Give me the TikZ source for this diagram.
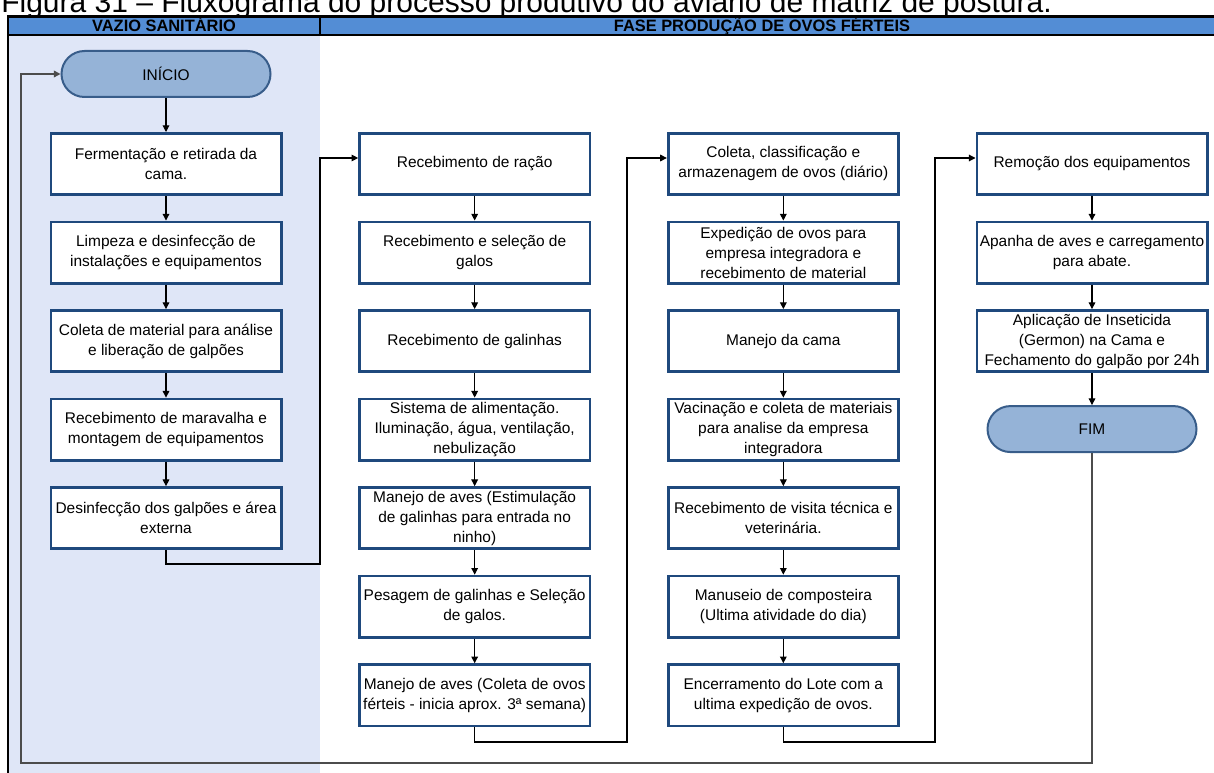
\documentclass[tikz,border=0pt]{standalone}
\usepackage{fontspec}
\setmainfont{Liberation Sans}
\usetikzlibrary{arrows.meta,positioning,calc}
\definecolor{boxblue}{HTML}{1F497D}
\definecolor{termfill}{HTML}{95B3D7}
\definecolor{termline}{HTML}{385D8A}
\definecolor{hdrblue}{HTML}{538DD5}
\definecolor{vaziobg}{HTML}{DFE6F7}

\begin{document}
\begin{tikzpicture}[
  x=0.75pt,y=-0.75pt,
  every node/.style={font=\fontsize{11.6}{15}\selectfont,align=center},
  flow/.style={-{Triangle[length=5pt,width=5pt]},line width=0.8pt},
  backflow/.style={flow,draw=black!70,line width=1.1pt},
  box/.style={draw=boxblue,line width=2pt,fill=white,minimum width=172.75pt,minimum height=46pt,inner sep=1pt},
  term/.style={draw=termline,line width=1.5pt,fill=termfill,rounded corners=17.25pt,minimum width=156.75pt,minimum height=34.5pt},
  lanehead/.style={anchor=base,font=\bfseries\fontsize{12.3}{15}\selectfont}
]
\useasboundingbox (0,0) rectangle (1214,773);
\clip (0,0) rectangle (1214,773);

% title, cut off at the top
\node[anchor=base west,inner sep=0pt,font=\fontsize{22.5}{26}\selectfont] (titulo) at (1,12.5) {Figura 31 – Fluxograma do processo produtivo do aviário de matriz de postura.};

% table and lanes
\fill[vaziobg] (8,35) rectangle (320,780);
\fill[hdrblue] (8,16.5) rectangle (1220,35);
\draw[line width=1.6pt] (1220,16.5) -- (8,16.5) -- (8,780);
\draw[line width=1.6pt] (8,35) -- (1220,35);
\draw[line width=1.2pt] (320,16.5) -- (320,35);
\node[lanehead] (vazio) at (164,31.8) {VAZIO SANITÁRIO};
\node[lanehead] (fase) at (762,31.8) {FASE PRODUÇÃO DE OVOS FÉRTEIS};

% vazio sanitario
\node[term] (inicio) at (166,74) {INÍCIO};
\node[box,below=25.5pt of inicio] (ferm) {Fermentação e retirada da\\cama.};
\node[box,below=18.4pt of ferm] (limpeza) {Limpeza e desinfecção de\\instalações e equipamentos};
\node[box,below=18.4pt of limpeza] (coletamat) {Coleta de material para análise\\e liberação de galpões};
\node[box,below=18.4pt of coletamat] (maravalha) {Recebimento de maravalha e\\montagem de equipamentos};
\node[box,below=18.4pt of maravalha] (desinf) {Desinfecção dos galpões e área\\externa};

% producao, first column
\node[box,right=56.75pt of ferm] (racao) {Recebimento de ração};
\node[box,below=18.4pt of racao] (galos) {Recebimento e seleção de\\galos};
\node[box,below=18.4pt of galos] (galinhas) {Recebimento de galinhas};
\node[box,below=18.4pt of galinhas] (alimentacao) {Sistema de alimentação.\\Iluminação, água, ventilação,\\nebulização};
\node[box,below=18.4pt of alimentacao] (estimulo) {Manejo de aves (Estimulação\\de galinhas para entrada no\\ninho)};
\node[box,below=18.4pt of estimulo] (pesagem) {Pesagem de galinhas e Seleção\\de galos.};
\node[box,below=18.4pt of pesagem] (coletaovos) {Manejo de aves (Coleta de ovos\\férteis - inicia aprox. 3ª semana)};

% producao, second column
\node[box,right=56.75pt of racao] (classif) {Coleta, classificação e\\armazenagem de ovos (diário)};
\node[box,below=18.4pt of classif] (expedicao) {Expedição de ovos para\\empresa integradora e\\recebimento de material};
\node[box,below=18.4pt of expedicao] (cama) {Manejo da cama};
\node[box,below=18.4pt of cama] (vacina) {Vacinação e coleta de materiais\\para analise da empresa\\integradora};
\node[box,below=18.4pt of vacina] (visita) {Recebimento de visita técnica e\\veterinária.};
\node[box,below=18.4pt of visita] (compost) {Manuseio de composteira\\(Ultima atividade do dia)};
\node[box,below=18.4pt of compost] (encerra) {Encerramento do Lote com a\\ultima expedição de ovos.};

% producao, last column
\node[box,right=56.75pt of classif] (remocao) {Remoção dos equipamentos};
\node[box,below=18.4pt of remocao] (apanha) {Apanha de aves e carregamento\\para abate.};
\node[box,below=18.4pt of apanha] (inseticida) {Aplicação de Inseticida\\(Germon) na Cama e\\Fechamento do galpão por 24h};
\node[term,below=24pt of inseticida] (fim) {FIM};

\coordinate (c1) at (320,564);
\coordinate (c2) at (627,742);
\coordinate (c3) at (935,742);
\coordinate (back) at (21,763);

\draw[flow] (inicio) -- (ferm);
\draw[flow] (ferm) -- (limpeza);
\draw[flow] (limpeza) -- (coletamat);
\draw[flow] (coletamat) -- (maravalha);
\draw[flow] (maravalha) -- (desinf);
\draw[flow] (desinf.south) |- (c1) |- ([yshift=4.5pt]racao.west);
\draw[flow] (racao) -- (galos);
\draw[flow] (galos) -- (galinhas);
\draw[flow] (galinhas) -- (alimentacao);
\draw[flow] (alimentacao) -- (estimulo);
\draw[flow] (estimulo) -- (pesagem);
\draw[flow] (pesagem) -- (coletaovos);
\draw[flow] (coletaovos.south) |- (c2) |- ([yshift=4.5pt]classif.west);
\draw[flow] (classif) -- (expedicao);
\draw[flow] (expedicao) -- (cama);
\draw[flow] (cama) -- (vacina);
\draw[flow] (vacina) -- (visita);
\draw[flow] (visita) -- (compost);
\draw[flow] (compost) -- (encerra);
\draw[flow] (encerra.south) |- (c3) |- ([yshift=4.5pt]remocao.west);
\draw[flow] (remocao) -- (apanha);
\draw[flow] (apanha) -- (inseticida);
\draw[flow] (inseticida) -- (fim);
\draw[backflow] (fim.south) |- (back) |- (inicio.west);
\end{tikzpicture}
\end{document}
